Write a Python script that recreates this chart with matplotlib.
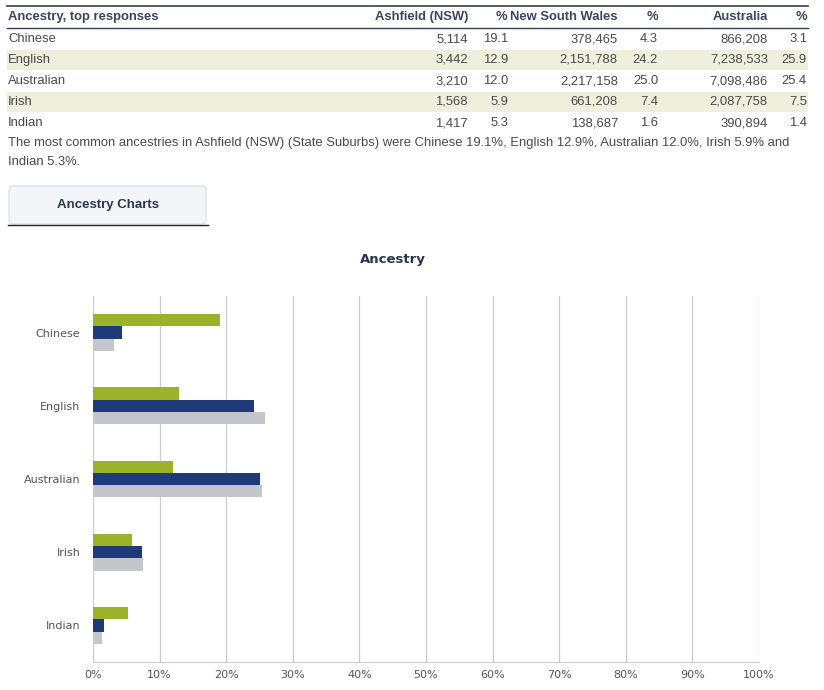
import matplotlib.pyplot as plt
from matplotlib.patches import FancyBboxPatch, Rectangle

W, H = 824, 690

# table / chart data
categories = ['Chinese', 'English', 'Australian', 'Irish', 'Indian']
ashfield_count = ['5,114', '3,442', '3,210', '1,568', '1,417']
ashfield_pct = [19.1, 12.9, 12.0, 5.9, 5.3]
nsw_count = ['378,465', '2,151,788', '2,217,158', '661,208', '138,687']
nsw_pct = [4.3, 24.2, 25.0, 7.4, 1.6]
aus_count = ['866,208', '7,238,533', '7,098,486', '2,087,758', '390,894']
aus_pct = [3.1, 25.9, 25.4, 7.5, 1.4]
x_ticks = [0, 10, 20, 30, 40, 50, 60, 70, 80, 90, 100]

GREEN = '#9db22b'
NAVY = '#1f3a78'
GREY = '#c4c6cb'
HEAD = '#3a4560'
BODY = '#4a4a4a'

plt.rcParams['font.family'] = ['Liberation Sans', 'DejaVu Sans']

fig = plt.figure(figsize=(W / 100, H / 100), dpi=100)


def fx(x):
    return x / W


def fy(y):
    return 1 - y / H


def txt(x, y, s, ha='left', **kw):
    fig.text(fx(x), fy(y), s, ha=ha, va='center', **kw)


# --- table ---
fig.add_artist(plt.Line2D([fx(7), fx(808)], [fy(6), fy(6)], color='#3a3f4f', lw=1.2))
fig.add_artist(plt.Line2D([fx(7), fx(808)], [fy(28), fy(28)], color='#3a3f4f', lw=1.0))
row_y = [39, 60, 81, 102, 123]
for i, ry in enumerate(row_y):
    if i % 2 == 1:
        fig.add_artist(Rectangle((fx(7), fy(ry + 10)), fx(801), 20 / H,
                                 facecolor='#eef0dd', edgecolor='none'))

hkw = dict(fontsize=9.35, fontweight='bold', color=HEAD)
txt(8, 17, 'Ancestry, top responses', **hkw)
txt(468, 17, 'Ashfield (NSW)', ha='right', **hkw)
txt(507, 17, '%', ha='right', **hkw)
txt(618, 17, 'New South Wales', ha='right', **hkw)
txt(658, 17, '%', ha='right', **hkw)
txt(768, 17, 'Australia', ha='right', **hkw)
txt(807, 17, '%', ha='right', **hkw)

bkw = dict(fontsize=9.35, color=BODY)
for i, ry in enumerate(row_y):
    txt(8, ry, categories[i], **bkw)
    txt(468, ry, ashfield_count[i], ha='right', **bkw)
    txt(508, ry, f'{ashfield_pct[i]:.1f}', ha='right', **bkw)
    txt(618, ry, nsw_count[i], ha='right', **bkw)
    txt(658, ry, f'{nsw_pct[i]:.1f}', ha='right', **bkw)
    txt(768, ry, aus_count[i], ha='right', **bkw)
    txt(807, ry, f'{aus_pct[i]:.1f}', ha='right', **bkw)

summary = ', '.join(f'{c} {p:.1f}%' for c, p in zip(categories[:4], ashfield_pct[:4]))
txt(8, 143, 'The most common ancestries in Ashfield (NSW) (State Suburbs) were '
    + summary + ' and', **bkw)
txt(8, 162, f'{categories[4]} {ashfield_pct[4]:.1f}%.', **bkw)

# --- button ---
fig.add_artist(FancyBboxPatch((fx(9), fy(224)), fx(197), 38 / H,
                              boxstyle='round,pad=0,rounding_size=0.006',
                              facecolor='#f3f5f9', edgecolor='#d8dbe0', lw=0.8))
fig.add_artist(plt.Line2D([fx(8), fx(208)], [fy(225), fy(225)], color='#222222', lw=1.0))
txt(108, 205, 'Ancestry Charts', ha='center', fontsize=9.5, fontweight='bold', color='#2b3550')

# --- chart ---
txt(393, 260, 'Ancestry', ha='center', fontsize=9.5, fontweight='bold', color='#2b3550',
    family='DejaVu Sans')

ax = fig.add_axes([fx(93), fy(662), fx(759 - 93), (662 - 296) / H])
bh = 0.168
ys = list(range(len(categories)))
ax.barh([y - bh for y in ys], ashfield_pct, height=bh, color=GREEN)
ax.barh(ys, nsw_pct, height=bh, color=NAVY)
ax.barh([y + bh for y in ys], aus_pct, height=bh, color=GREY)

ax.set_xlim(0, 100)
ax.set_ylim(4.5, -0.5)
ax.set_xticks(x_ticks)
ax.set_xticklabels([f'{t}%' for t in x_ticks])
ax.set_yticks(ys)
ax.set_yticklabels(categories)
for t in x_ticks:
    ax.axvline(t, color='#cccccc', lw=0.9, zorder=0)
for side in ['top', 'right', 'left']:
    ax.spines[side].set_visible(False)
ax.spines['bottom'].set_color('#cccccc')
ax.tick_params(axis='both', length=0, labelsize=8, labelcolor='#555555', pad=6)
ax.tick_params(axis='y', pad=9)
for lab in ax.get_xticklabels() + ax.get_yticklabels():
    lab.set_family('DejaVu Sans')

fig.savefig('out.png', dpi=100)
